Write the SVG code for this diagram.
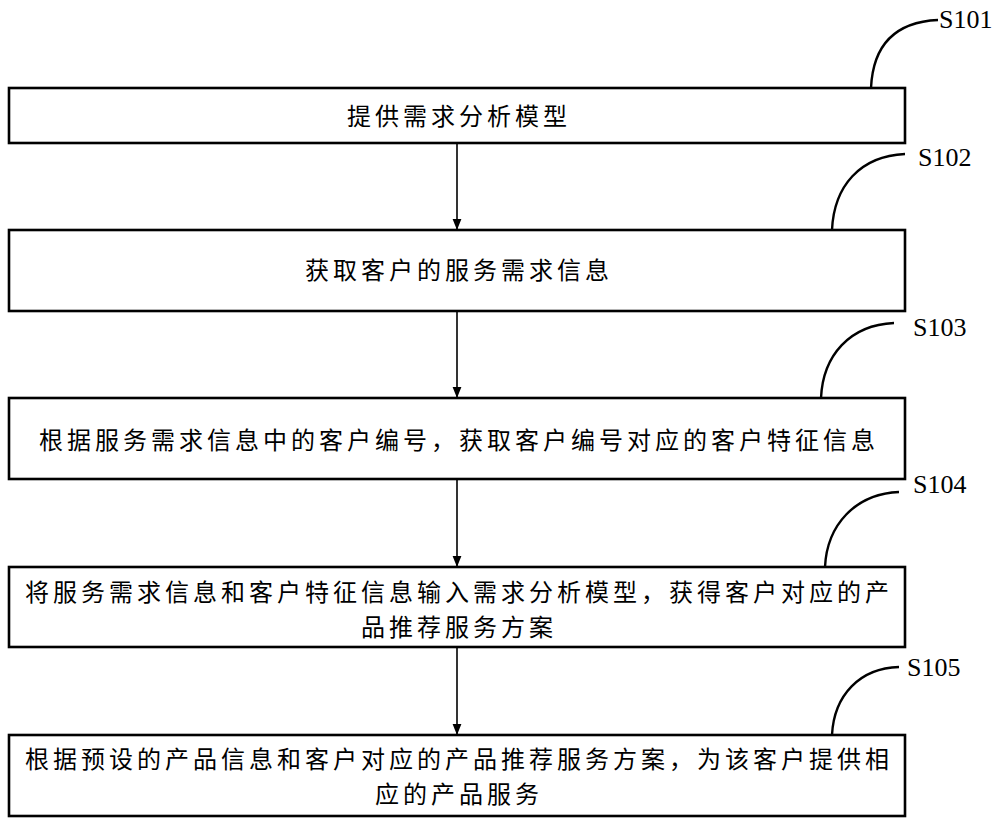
<svg xmlns="http://www.w3.org/2000/svg" width="1000" height="825" viewBox="0 0 1000 825">
<defs>
<marker id="arr" markerWidth="12" markerHeight="16" refX="15" refY="6" orient="auto" markerUnits="userSpaceOnUse" viewBox="0 0 16 12">
<path d="M0,0 L15,6 L0,12 Z" fill="#000"/>
</marker>
<style>
.box{fill:#fff;stroke:#000;stroke-width:2.6}
.t{font-family:"Noto Sans CJK SC","Liberation Serif",sans-serif;font-size:24px;letter-spacing:4px;fill:#000;text-anchor:middle}
.lbl{font-family:"Liberation Serif",serif;font-size:26px;fill:#000}
.cur{fill:none;stroke:#000;stroke-width:2.4}
.con{stroke:#000;stroke-width:1.6;fill:none}
</style>
</defs>
<rect width="1000" height="825" fill="#fff"/>
<g id="connectors">
<line class="con" x1="457" y1="143" x2="457" y2="230" marker-end="url(#arr)"/>
<line class="con" x1="457" y1="311" x2="457" y2="398" marker-end="url(#arr)"/>
<line class="con" x1="457" y1="479" x2="457" y2="567" marker-end="url(#arr)"/>
<line class="con" x1="457" y1="647" x2="457" y2="735" marker-end="url(#arr)"/>
</g>
<g id="S101">
<rect class="box" x="9" y="88" width="896" height="55"/>
<text class="t" x="459" y="125">提供需求分析模型</text>
<path class="cur" d="M871,88 C873,45 895,22 938,20"/>
<text class="lbl" x="939" y="28">S101</text>
</g>
<g id="S102">
<rect class="box" x="9" y="230" width="896" height="81"/>
<text class="t" x="459" y="279">获取客户的服务需求信息</text>
<path class="cur" d="M832,230 C834,186 860,156 905,154"/>
<text class="lbl" x="918" y="166">S102</text>
</g>
<g id="S103">
<rect class="box" x="9" y="398" width="896" height="81"/>
<text class="t" x="459" y="449">根据服务需求信息中的客户编号，获取客户编号对应的客户特征信息</text>
<path class="cur" d="M821,398 C823,355 850,325 894,323"/>
<text class="lbl" x="913" y="336">S103</text>
</g>
<g id="S104">
<rect class="box" x="9" y="567" width="896" height="80"/>
<text class="t" x="459" y="601">将服务需求信息和客户特征信息输入需求分析模型，获得客户对应的产</text>
<text class="t" x="459" y="636">品推荐服务方案</text>
<path class="cur" d="M825,567 C827,525 855,494 899,492"/>
<text class="lbl" x="913" y="493">S104</text>
</g>
<g id="S105">
<rect class="box" x="9" y="735" width="896" height="81"/>
<text class="t" x="459" y="768">根据预设的产品信息和客户对应的产品推荐服务方案，为该客户提供相</text>
<text class="t" x="459" y="803">应的产品服务</text>
<path class="cur" d="M832,735 C834,695 860,668 899,667"/>
<text class="lbl" x="907" y="676">S105</text>
</g>
</svg>
